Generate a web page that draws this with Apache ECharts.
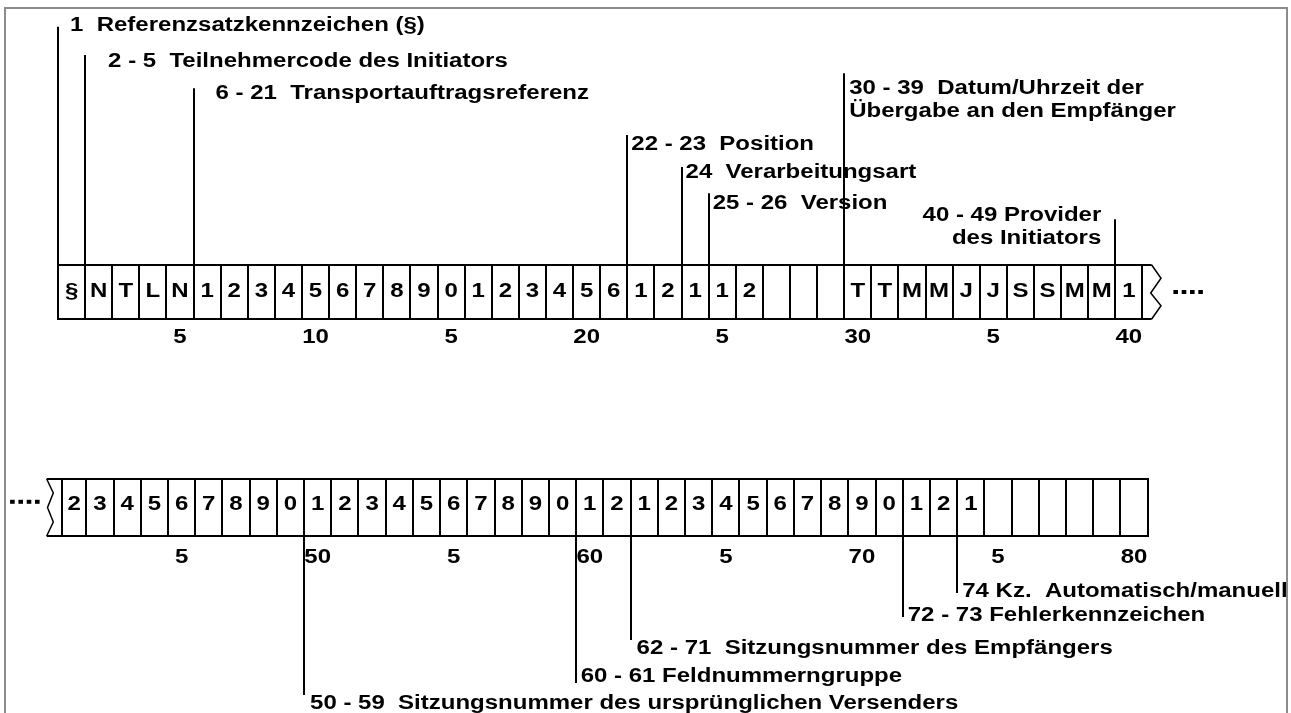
<!DOCTYPE html>
<html>
<head>
<meta charset="utf-8">
<script src="https://cdn.jsdelivr.net/npm/echarts@6/dist/echarts.min.js"></script>
<style>html,body{margin:0;padding:0;background:#fff}#c{width:1291px;height:713px}</style>
</head>
<body>
<div id="c"></div>
<script>
// ---------------- DATA ----------------
// Record positions 1..40 (first line) and 41..80 (second line)
const row1Chars = ['§','N','T','L','N','1','2','3','4','5','6','7','8','9','0','1','2','3','4','5','6',
                   '1','2','1','1','2','','','','T','T','M','M','J','J','S','S','M','M','1'];
const row2Chars = ['2','3','4','5','6','7','8','9','0','1','2','3','4','5','6','7','8','9','0','1','2',
                   '1','2','3','4','5','6','7','8','9','0','1','2','1','','','','','',''];
const row1First = 1;
const row2First = 41;

// Position scale labels
const tickPos1 = [5, 10, 15, 20, 25, 30, 35, 40];
const tickLabel1 = ['5', '10', '5', '20', '5', '30', '5', '40'];
const tickPos2 = [45, 50, 55, 60, 65, 70, 75, 80];
const tickLabel2 = ['5', '50', '5', '60', '5', '70', '5', '80'];

// Field annotations (start position and text)
const fieldStart1 = [1, 2, 6, 22, 24, 25, 30, 40];
const fieldLabel1 = [
  '1  Referenzsatzkennzeichen (§)',
  '2 - 5  Teilnehmercode des Initiators',
  '6 - 21  Transportauftragsreferenz',
  '22 - 23  Position',
  '24  Verarbeitungsart',
  '25 - 26  Version',
  '30 - 39  Datum/Uhrzeit der\nÜbergabe an den Empfänger',
  '40 - 49 Provider\ndes Initiators'
];
const fieldStart2 = [50, 60, 62, 72, 74];
const fieldLabel2 = [
  '50 - 59  Sitzungsnummer des ursprünglichen Versenders',
  '60 - 61 Feldnummerngruppe',
  '62 - 71  Sitzungsnummer des Empfängers',
  '72 - 73 Fehlerkennzeichen',
  '74 Kz.  Automatisch/manuell'
];

// ---------------- LAYOUT / STYLE ----------------
const L = {
  row1Top: 265, row1Bottom: 319, row1Text: 291.2, tick1: 337.8,
  row2Top: 479, row2Bottom: 536, row2Text: 504.5, tick2: 557.5
};
// leader line end (y), label centre (y), label offset from line (px), alignment
const lead1 = [
  {end: 26.7, ty: 25.3, dx: 12},
  {end: 55, ty: 61.7, dx: 23},
  {end: 88.3, ty: 93.3, dx: 22},
  {end: 135, ty: 144, dx: 4},
  {end: 167, ty: 172.7, dx: 4},
  {end: 193.3, ty: 203.3, dx: 4},
  {end: 73.3, ty: 100, dx: 5},
  {end: 219.3, ty: 226.7, dx: -14, align: 'right'}
];
const lead2 = [
  {end: 695, ty: 703.3, dx: 6},
  {end: 683, ty: 676.7, dx: 4.5},
  {end: 640, ty: 648.3, dx: 6},
  {end: 617, ty: 615, dx: 5},
  {end: 593, ty: 591.7, dx: 5}
];
const FONT = 'bold 20px "Liberation Sans", Arial, sans-serif';
const SX = 1.2;      // horizontal stretch of the lettering
const LW = 2;        // line width
const INK = '#000';
const snap = v => Math.round(v);

function txt(x, y, s, align, lh) {
  const a = align || 'center';
  return {
    type: 'text', x: x, y: y, scaleX: SX, scaleY: 1,
    style: {
      text: s, x: 0, y: 0, font: FONT, fill: INK,
      align: a, verticalAlign: 'middle',
      textAlign: a, textVerticalAlign: 'middle',
      lineHeight: lh || 23.4
    }
  };
}

function cellRender(chars, top, bottom, textY, firstInset) {
  return function (params, api) {
    const v = api.value(0);
    const p0 = api.coord([v, top]);
    const p1 = api.coord([v + 1, bottom]);
    let x0 = p0[0];
    if (params.dataIndex === 0 && firstInset) x0 += firstInset;
    const xa = snap(x0), xb = snap(p1[0]);
    const children = [{
      type: 'rect',
      shape: {x: xa, y: snap(p0[1]), width: xb - xa, height: snap(p1[1]) - snap(p0[1])},
      style: {fill: 'none', stroke: INK, lineWidth: LW}
    }];
    const ch = chars[params.dataIndex];
    if (ch) children.push(txt((x0 + p1[0]) / 2, api.coord([v, textY])[1], ch));
    return {type: 'group', children: children};
  };
}

function tickRender(labels, y) {
  return function (params, api) {
    const p = api.coord([api.value(0), y]);
    return txt(p[0], p[1], labels[params.dataIndex]);
  };
}

function leadRender(labels, lay, edgeY) {
  return function (params, api) {
    const k = params.dataIndex;
    const lx = api.value(0);
    const a = api.coord([lx, edgeY]);
    const b = api.coord([lx, lay[k].end]);
    const t = api.coord([lx, lay[k].ty]);
    const x = snap(a[0]);
    return {
      type: 'group',
      children: [
        {type: 'line', shape: {x1: x, y1: a[1], x2: x, y2: b[1]}, style: {stroke: INK, lineWidth: LW}},
        txt(a[0] + lay[k].dx, t[1], labels[k], lay[k].align || 'left')
      ]
    };
  };
}

function dots(x, y) {
  const out = [];
  for (let i = 0; i < 4; i++) {
    out.push({type: 'rect', shape: {x: x + i * 8.3, y: y - 2, width: 4.6, height: 4}, style: {fill: INK}});
  }
  return out;
}

// continuation at the right end of line 1
function contRight(params, api) {
  const v = api.value(0);
  const t = api.coord([v, L.row1Top]);
  const b = api.coord([v, L.row1Bottom]);
  const h = b[1] - t[1];
  const x0 = snap(t[0]);
  const xi = t[0] + 9.3, xo = t[0] + 18.6;
  return {
    type: 'group',
    children: [
      {type: 'line', shape: {x1: x0, y1: t[1], x2: xi, y2: t[1]}, style: {stroke: INK, lineWidth: LW}},
      {type: 'line', shape: {x1: x0, y1: b[1], x2: xi, y2: b[1]}, style: {stroke: INK, lineWidth: LW}},
      {type: 'polyline', shape: {points: [[xi, t[1]], [xo, t[1] + h * 0.245], [xi - 1, t[1] + h * 0.52], [xo, t[1] + h * 0.755], [xi, b[1]]]},
        style: {stroke: INK, lineWidth: 1.5, fill: 'none'}}
    ].concat(dots(t[0] + 31, t[1] + h * 0.5))
  };
}

// continuation at the left start of line 2
function contLeft(params, api) {
  const v = api.value(0);
  const t = api.coord([v, L.row2Top]);
  const b = api.coord([v, L.row2Bottom]);
  const h = b[1] - t[1];
  const xo = t[0] - 12.4, xi = t[0] - 5.8, xc = snap(t[0] + 3);
  return {
    type: 'group',
    children: [
      {type: 'line', shape: {x1: xo, y1: t[1], x2: xc, y2: t[1]}, style: {stroke: INK, lineWidth: LW}},
      {type: 'line', shape: {x1: xo, y1: b[1], x2: xc, y2: b[1]}, style: {stroke: INK, lineWidth: LW}},
      {type: 'polyline', shape: {points: [[xo, t[1]], [xi, t[1] + h * 0.245], [xo + 0.8, t[1] + h * 0.5], [xi, t[1] + h * 0.755], [xo, b[1]]]},
        style: {stroke: INK, lineWidth: 1.5, fill: 'none'}}
    ].concat(dots(t[0] - 49, t[1] + h * 0.4))
  };
}

const chart = echarts.init(document.getElementById('c'), null, {renderer: 'canvas'});
const option = {
  animation: false,
  backgroundColor: '#fff',
  grid: [
    {left: 58, top: 0, width: 1084.4, height: 713, outerBoundsMode: 'none'},
    {left: 59.1, top: 0, width: 1088.6, height: 713, outerBoundsMode: 'none'}
  ],
  xAxis: [
    {type: 'value', gridIndex: 0, min: row1First - 1, max: row1First - 1 + row1Chars.length, show: false},
    {type: 'value', gridIndex: 1, min: row2First - 1, max: row2First - 1 + row2Chars.length, show: false}
  ],
  yAxis: [
    {type: 'value', gridIndex: 0, min: 0, max: 713, inverse: true, show: false},
    {type: 'value', gridIndex: 1, min: 0, max: 713, inverse: true, show: false}
  ],
  graphic: [{
    type: 'rect', silent: true,
    shape: {x: 5, y: 8, width: 1282, height: 800},
    style: {fill: 'none', stroke: '#8c8c8c', lineWidth: 2}
  }],
  series: [
    {type: 'custom', name: 'Zeile 1', xAxisIndex: 0, yAxisIndex: 0,
      data: row1Chars.map((c, k) => [row1First - 1 + k]),
      renderItem: cellRender(row1Chars, L.row1Top, L.row1Bottom, L.row1Text, 0)},
    {type: 'custom', name: 'Zeile 2', xAxisIndex: 1, yAxisIndex: 1,
      data: row2Chars.map((c, k) => [row2First - 1 + k]),
      renderItem: cellRender(row2Chars, L.row2Top, L.row2Bottom, L.row2Text, 3)},
    {type: 'custom', name: 'Skala 1', xAxisIndex: 0, yAxisIndex: 0,
      data: tickPos1.map(p => [p - 0.5]), renderItem: tickRender(tickLabel1, L.tick1)},
    {type: 'custom', name: 'Skala 2', xAxisIndex: 1, yAxisIndex: 1,
      data: tickPos2.map(p => [p - 0.5]), renderItem: tickRender(tickLabel2, L.tick2)},
    {type: 'custom', name: 'Felder 1', xAxisIndex: 0, yAxisIndex: 0,
      data: fieldStart1.map(s => [s - 1]), renderItem: leadRender(fieldLabel1, lead1, L.row1Top)},
    {type: 'custom', name: 'Felder 2', xAxisIndex: 1, yAxisIndex: 1,
      data: fieldStart2.map(s => [s - 1]), renderItem: leadRender(fieldLabel2, lead2, L.row2Bottom)},
    {type: 'custom', name: 'Fortsetzung 1', xAxisIndex: 0, yAxisIndex: 0,
      data: [[row1First - 1 + row1Chars.length]], renderItem: contRight},
    {type: 'custom', name: 'Fortsetzung 2', xAxisIndex: 1, yAxisIndex: 1,
      data: [[row2First - 1]], renderItem: contLeft}
  ]
};
chart.setOption(option);
</script>
</body>
</html>
